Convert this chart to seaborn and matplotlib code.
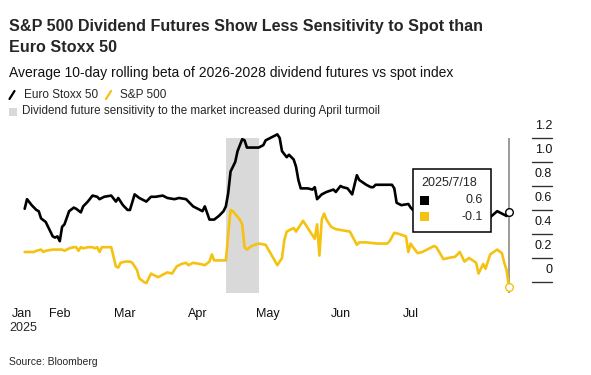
import numpy as np
import pandas as pd
import matplotlib
matplotlib.use("Agg")
import matplotlib.pyplot as plt
import seaborn as sns
from matplotlib.patches import Rectangle
from matplotlib.lines import Line2D

# 10-day rolling beta of 2026-2028 dividend futures vs spot index
euro_dates = [
    "2025-01-17", "2025-01-18", "2025-01-20", "2025-01-22", "2025-01-23", "2025-01-24",
    "2025-01-26", "2025-01-27", "2025-01-29", "2025-01-30", "2025-01-31", "2025-02-01",
    "2025-02-02", "2025-02-03", "2025-02-05", "2025-02-07", "2025-02-08", "2025-02-10",
    "2025-02-11", "2025-02-13", "2025-02-15", "2025-02-17", "2025-02-18", "2025-02-20",
    "2025-02-23", "2025-02-25", "2025-02-26", "2025-02-28", "2025-03-02", "2025-03-03",
    "2025-03-05", "2025-03-07", "2025-03-10", "2025-03-12", "2025-03-14", "2025-03-17",
    "2025-03-19", "2025-03-22", "2025-03-24", "2025-03-27", "2025-03-30", "2025-04-02",
    "2025-04-03", "2025-04-04", "2025-04-06", "2025-04-08", "2025-04-10", "2025-04-12",
    "2025-04-13", "2025-04-14", "2025-04-15", "2025-04-17", "2025-04-18", "2025-04-20",
    "2025-04-21", "2025-04-22", "2025-04-25", "2025-04-27", "2025-04-29", "2025-04-30",
    "2025-05-03", "2025-05-05", "2025-05-06", "2025-05-07", "2025-05-09", "2025-05-10",
    "2025-05-12", "2025-05-13", "2025-05-14", "2025-05-15", "2025-05-18", "2025-05-20",
    "2025-05-21", "2025-05-22", "2025-05-24", "2025-05-26", "2025-05-29", "2025-05-30",
    "2025-06-01", "2025-06-02", "2025-06-04", "2025-06-06", "2025-06-08", "2025-06-09",
    "2025-06-12", "2025-06-14", "2025-06-15", "2025-06-16", "2025-06-21", "2025-06-23",
    "2025-06-24", "2025-06-25", "2025-06-27", "2025-06-30", "2025-07-01", "2025-07-02",
    "2025-07-07", "2025-07-13", "2025-07-20", "2025-07-26", "2025-08-02", "2025-08-04",
    "2025-08-07", "2025-08-09", "2025-08-11", "2025-08-12",
]
euro_beta = [
    0.61, 0.69, 0.64, 0.60, 0.59, 0.53,
    0.50, 0.46, 0.38, 0.37, 0.38, 0.34,
    0.46, 0.48, 0.59, 0.62, 0.61, 0.58,
    0.63, 0.67, 0.72, 0.71, 0.69, 0.71,
    0.72, 0.67, 0.70, 0.64, 0.60, 0.60,
    0.73, 0.70, 0.67, 0.71, 0.71, 0.72,
    0.70, 0.69, 0.70, 0.69, 0.63, 0.60,
    0.59, 0.63, 0.52, 0.52, 0.55, 0.59,
    0.63, 0.74, 0.92, 1.00, 1.09, 1.19,
    1.18, 1.12, 1.12, 1.12, 1.14, 1.18,
    1.21, 1.23, 1.20, 1.09, 1.04, 1.06,
    1.02, 0.96, 0.85, 0.78, 0.78, 0.77,
    0.79, 0.69, 0.73, 0.75, 0.77, 0.75,
    0.80, 0.79, 0.78, 0.73, 0.89, 0.85,
    0.81, 0.79, 0.79, 0.81, 0.81, 0.81,
    0.78, 0.66, 0.64, 0.65, 0.62, 0.60,
    0.58, 0.62, 0.57, 0.60, 0.55, 0.54,
    0.59, 0.57, 0.55, 0.58,
]

spx_dates = [
    "2025-01-17", "2025-01-21", "2025-01-22", "2025-01-24", "2025-01-25", "2025-01-26",
    "2025-01-29", "2025-01-31", "2025-02-02", "2025-02-03", "2025-02-05", "2025-02-07",
    "2025-02-08", "2025-02-09", "2025-02-10", "2025-02-11", "2025-02-13", "2025-02-15",
    "2025-02-16", "2025-02-17", "2025-02-18", "2025-02-19", "2025-02-23", "2025-02-24",
    "2025-02-25", "2025-02-26", "2025-02-27", "2025-03-01", "2025-03-03", "2025-03-04",
    "2025-03-06", "2025-03-07", "2025-03-09", "2025-03-10", "2025-03-12", "2025-03-13",
    "2025-03-15", "2025-03-17", "2025-03-19", "2025-03-21", "2025-03-23", "2025-03-25",
    "2025-03-27", "2025-03-28", "2025-03-30", "2025-04-02", "2025-04-04", "2025-04-06",
    "2025-04-07", "2025-04-08", "2025-04-11", "2025-04-13", "2025-04-15", "2025-04-16",
    "2025-04-19", "2025-04-20", "2025-04-21", "2025-04-22", "2025-04-24", "2025-04-27",
    "2025-04-30", "2025-05-05", "2025-05-07", "2025-05-08", "2025-05-09", "2025-05-12",
    "2025-05-13", "2025-05-16", "2025-05-17", "2025-05-19", "2025-05-20", "2025-05-21",
    "2025-05-22", "2025-05-23", "2025-05-24", "2025-05-25", "2025-05-26", "2025-05-28",
    "2025-05-30", "2025-06-02", "2025-06-05", "2025-06-08", "2025-06-09", "2025-06-12",
    "2025-06-17", "2025-06-21", "2025-06-22", "2025-06-24", "2025-06-26", "2025-06-29",
    "2025-06-30", "2025-07-01", "2025-07-02", "2025-07-04", "2025-07-06", "2025-07-09",
    "2025-07-11", "2025-07-12", "2025-07-15", "2025-07-17", "2025-07-20", "2025-07-22",
    "2025-07-24", "2025-07-26", "2025-07-29", "2025-07-30", "2025-08-01", "2025-08-02",
    "2025-08-04", "2025-08-07", "2025-08-09", "2025-08-10", "2025-08-11", "2025-08-12",
]
spx_beta = [
    0.25, 0.25, 0.26, 0.27, 0.25, 0.26,
    0.27, 0.27, 0.27, 0.26, 0.28, 0.29,
    0.29, 0.26, 0.29, 0.28, 0.29, 0.29,
    0.28, 0.29, 0.25, 0.29, 0.29, 0.21,
    0.13, 0.12, 0.16, 0.17, 0.17, 0.16,
    0.10, 0.03, 0.00, -0.01, 0.07, 0.06,
    0.04, 0.06, 0.08, 0.07, 0.13, 0.15,
    0.16, 0.14, 0.16, 0.15, 0.14, 0.17,
    0.23, 0.18, 0.18, 0.18, 0.60, 0.59,
    0.52, 0.48, 0.29, 0.27, 0.30, 0.32,
    0.31, 0.14, 0.20, 0.35, 0.42, 0.45,
    0.42, 0.51, 0.48, 0.42, 0.39, 0.36,
    0.48, 0.22, 0.52, 0.57, 0.52, 0.46,
    0.44, 0.43, 0.42, 0.31, 0.33, 0.33,
    0.32, 0.32, 0.34, 0.41, 0.40, 0.38,
    0.25, 0.32, 0.29, 0.24, 0.25, 0.28,
    0.30, 0.29, 0.19, 0.20, 0.21, 0.25,
    0.17, 0.20, 0.16, 0.07, 0.15, 0.11,
    0.23, 0.27, 0.24, 0.16, 0.10, -0.04,
]

# April turmoil highlight
band_start = "2025-04-13"
band_end = "2025-04-27"

tick_dates = ["2025-01-16", "2025-02-01", "2025-03-01", "2025-04-01",
              "2025-05-01", "2025-06-01", "2025-07-01"]
tick_labels = ["Jan", "Feb", "Mar", "Apr", "May", "Jun", "Jul"]
y_ticks = [0, 0.2, 0.4, 0.6, 0.8, 1.0, 1.2]
y_labels = ["0", "0.2", "0.4", "0.6", "0.8", "1.0", "1.2"]

tooltip_date = "2025/7/18"
tooltip_values = ["0.6", "-0.1"]

BLACK = "#000000"
YELLOW = "#f5c211"
BAND = "#d9d9d9"

sns.set_style("white")
plt.rcParams["font.family"] = ["Liberation Sans", "DejaVu Sans"]

W, H = 591, 375
fig = plt.figure(figsize=(W / 100, H / 100), dpi=100)

def fx(px):
    return px / W

def fy(py):
    return 1 - py / H

# plot area in pixels: x 20..552, y 125..293
ax = fig.add_axes([fx(20), fy(293), fx(552) - fx(20), fy(125) - fy(293)])

y_lo, y_hi = -0.0917, 1.308

euro_df = pd.DataFrame({"date": pd.to_datetime(euro_dates), "beta": euro_beta})
spx_df = pd.DataFrame({"date": pd.to_datetime(spx_dates), "beta": spx_beta})

ax.fill_betweenx([y_lo, 1.2], pd.Timestamp(band_start), pd.Timestamp(band_end),
                 color=BAND, lw=0, zorder=1)

sns.lineplot(data=spx_df, x="date", y="beta", color=YELLOW, lw=1.9, ax=ax, zorder=3)
sns.lineplot(data=euro_df, x="date", y="beta", color=BLACK, lw=1.9, ax=ax, zorder=4)

# hover line and end markers
last = euro_df["date"].iloc[-1]
ax.vlines(last, y_lo, 1.2, color="#8a8a8a", lw=1.2, zorder=2)
ax.plot([last], [euro_df["beta"].iloc[-1]], "o", ms=5.5, mfc="white", mec=BLACK, mew=1, zorder=6)
ax.plot([spx_df["date"].iloc[-1]], [spx_df["beta"].iloc[-1]], "o", ms=5.5, mfc="white",
        mec=YELLOW, mew=1, zorder=6, clip_on=False)

ax.set_xlim(pd.Timestamp("2025-01-15"), pd.Timestamp("2025-08-30 10:00"))
ax.set_ylim(y_lo, y_hi)
for s in ax.spines.values():
    s.set_visible(False)

ax.set_xticks(pd.to_datetime(tick_dates))
ax.set_xticklabels(tick_labels)
ax.tick_params(axis="x", length=4, width=1, color="#333333", pad=7, labelsize=9, labelcolor="#111111")
ax.tick_params(axis="y", left=False, labelleft=False)
ax.set_xlabel("")
ax.set_ylabel("")

# right-hand value axis: short rule under each label
ytr = ax.get_yaxis_transform()
x0 = (532 - 20) / (552 - 20)
for v, lab in zip(y_ticks, y_labels):
    ax.plot([x0, 1.0], [v, v], color="#333333", lw=1, transform=ytr, clip_on=False)
    ax.annotate(lab, (1.0, v), xycoords=ytr, xytext=(0, 4), textcoords="offset points",
                ha="right", va="bottom", fontsize=9, color="#111111", annotation_clip=False)

# tooltip box
ax.add_patch(Rectangle((fx(413), fy(232)), fx(491) - fx(413), fy(169) - fy(232),
                       transform=fig.transFigure, facecolor="white", edgecolor="black",
                       lw=1.1, zorder=7, clip_on=False))
fig.text(fx(421), fy(183), tooltip_date, fontsize=9, va="center", ha="left", zorder=8)
for i, (c, val) in enumerate(zip([BLACK, YELLOW], tooltip_values)):
    yc = 200.5 + 16 * i
    fig.patches.append(Rectangle((fx(420), fy(yc + 4.5)), fx(9), 9 / H, transform=fig.transFigure,
                                 facecolor=c, edgecolor="none", zorder=8))
    fig.text(fx(483), fy(yc), val, fontsize=9, va="center", ha="right", zorder=8)

# titles
fig.text(fx(9), fy(27), "S&P 500 Dividend Futures Show Less Sensitivity to Spot than",
         fontsize=11.6, fontweight="bold", va="center", ha="left")
fig.text(fx(9), fy(47), "Euro Stoxx 50", fontsize=11.6, fontweight="bold", va="center", ha="left")
fig.text(fx(9), fy(73), "Average 10-day rolling beta of 2026-2028 dividend futures vs spot index",
         fontsize=10, va="center", ha="left", color="#111111")

# legend
fig.lines.append(Line2D([fx(9.5), fx(14.5)], [fy(99), fy(91)], color=BLACK, lw=1.6, transform=fig.transFigure))
fig.text(fx(24), fy(95), "Euro Stoxx 50", fontsize=8.5, va="center", ha="left")
fig.lines.append(Line2D([fx(106), fx(111)], [fy(99), fy(91)], color=YELLOW, lw=1.6, transform=fig.transFigure))
fig.text(fx(120), fy(95), "S&P 500", fontsize=8.5, va="center", ha="left")
fig.patches.append(Rectangle((fx(9), fy(115.5)), fx(8), 8 / H, transform=fig.transFigure,
                             facecolor=BAND, edgecolor="none"))
fig.text(fx(22), fy(111), "Dividend future sensitivity to the market increased during April turmoil",
         fontsize=8.4, va="center", ha="left")

fig.text(fx(9), fy(328), "2025", fontsize=9, va="center", ha="left")
fig.text(fx(9), fy(362), "Source: Bloomberg", fontsize=7.5, va="center", ha="left")

fig.savefig("out.png", dpi=100)
